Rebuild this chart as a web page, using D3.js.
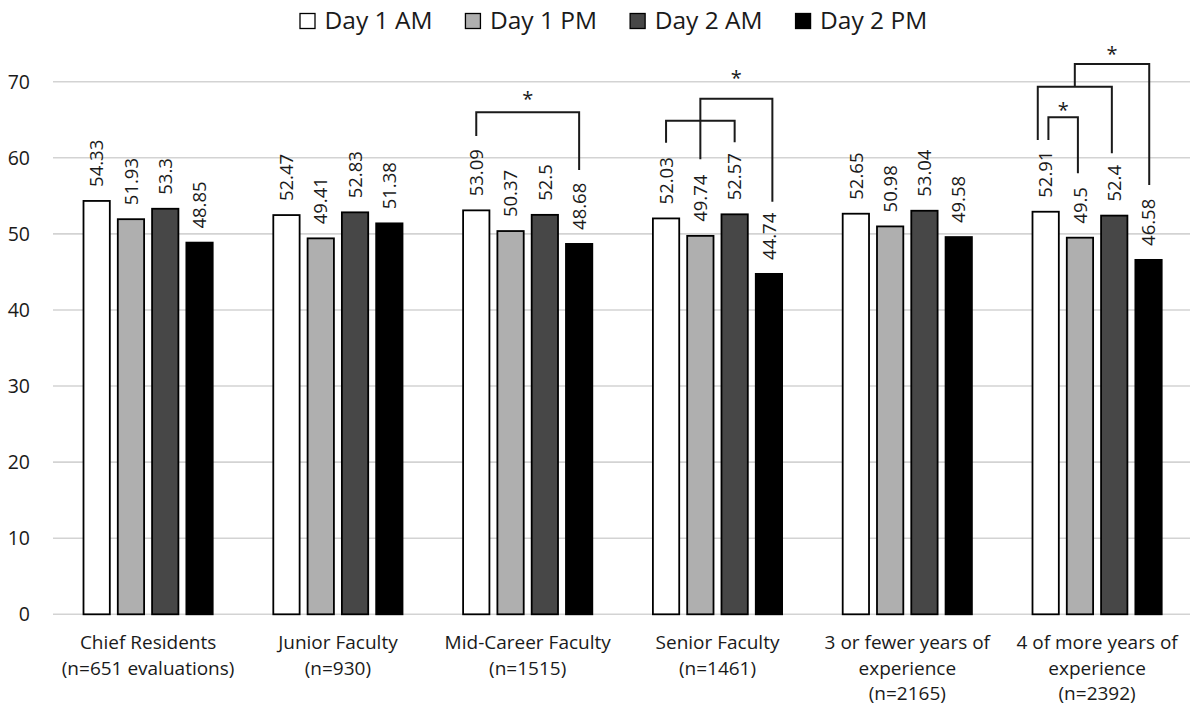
<!DOCTYPE html>
<html>
<head>
<meta charset="utf-8">
<title>Evaluation scores by session</title>
<style>
  body { margin: 0; background: #fff; }
  svg text { font-family: 'Open Sans', 'Noto Sans', sans-serif; fill: #1a1a1a; }
</style>
</head>
<body>
<svg width="1190" height="706"></svg>
<script src="https://d3js.org/d3.v7.min.js"></script>
<script>

// ---- data ----
const categories = ['Chief Residents', 'Junior Faculty', 'Mid-Career Faculty',
  'Senior Faculty', '3 or fewer', '4 of more'];
const categoryLabels = [
  ['Chief Residents', '(n=651 evaluations)'],
  ['Junior Faculty', '(n=930)'],
  ['Mid-Career Faculty', '(n=1515)'],
  ['Senior Faculty', '(n=1461)'],
  ['3 or fewer years of', 'experience', '(n=2165)'],
  ['4 of more years of', 'experience', '(n=2392)']
];
const series = ['Day 1 AM', 'Day 1 PM', 'Day 2 AM', 'Day 2 PM'];
const day1AM = [54.33, 52.47, 53.09, 52.03, 52.65, 52.91];
const day1PM = [51.93, 49.41, 50.37, 49.74, 50.98, 49.5];
const day2AM = [53.3, 52.83, 52.5, 52.57, 53.04, 52.4];
const day2PM = [48.85, 51.38, 48.68, 44.74, 49.58, 46.58];
const yTicks = [0, 10, 20, 30, 40, 50, 60, 70];

// significance brackets: slot = position among the four bars of a group,
// heights in chart units
const brackets = [
  { cat: 2, from: 0, to: 3, top: 65.97, fromEnd: 62.86, toEnd: 58.39, star: 68.25 },
  { cat: 3, from: 0, to: 2, top: 64.87, fromEnd: 61.98, toEnd: 62.03, star: null },
  { cat: 3, from: 1, to: 3.1, top: 67.76, fromEnd: 59.8, toEnd: 54.22, star: 71.0 },
  { cat: 5, from: 0.08, to: 0.94, top: 65.32, fromEnd: 62.33, toEnd: 57.96, star: 66.8 },
  { cat: 5, from: -0.23, to: 1.93, top: 69.34, fromEnd: 62.33, toEnd: 60.59, star: null },
  { cat: 5, from: 0.85, to: 3.02, top: 72.32, fromEnd: 69.34, toEnd: 56.42, star: 74.16 }
];

const values = [day1AM, day1PM, day2AM, day2PM];
const colors = ['#ffffff', '#afafaf', '#474747', '#000000'];

const svg = d3.select('svg');

const x0 = d3.scaleBand()
  .domain(categories)
  .range([53.2, 1192])
  .padding(0);

const x1 = d3.scaleBand()
  .domain(series)
  .range([29.4, 160.4])
  .paddingInner(0.18);

const y = d3.scaleLinear()
  .domain([0, 70])
  .range([614.3, 81.7]);

const color = d3.scaleOrdinal().domain(series).range(colors);

// gridlines
svg.append('g')
  .selectAll('line')
  .data(yTicks)
  .join('line')
  .attr('x1', 53)
  .attr('x2', 1190)
  .attr('y1', d => y(d))
  .attr('y2', d => y(d))
  .attr('stroke', '#d3d3d3')
  .attr('stroke-width', 1.6);

// y tick labels
svg.append('g')
  .selectAll('text')
  .data(yTicks)
  .join('text')
  .attr('x', 30)
  .attr('y', d => y(d))
  .attr('dy', '0.36em')
  .attr('text-anchor', 'end')
  .style('font-size', '19.5px')
  .text(d => d);

// bars
const rows = [];
categories.forEach((c, ci) => {
  series.forEach((s, si) => {
    rows.push({ cat: c, ci: ci, s: s, v: values[si][ci] });
  });
});

const bars = svg.append('g');
bars.selectAll('rect')
  .data(rows)
  .join('rect')
  .attr('x', d => x0(d.cat) + x1(d.s) + 0.9)
  .attr('width', x1.bandwidth() - 1.8)
  .attr('y', d => y(d.v))
  .attr('height', d => y(0) - y(d.v))
  .attr('fill', d => color(d.s))
  .attr('stroke', '#000')
  .attr('stroke-width', 1.8);

// value labels, rotated
bars.selectAll('text')
  .data(rows)
  .join('text')
  .attr('transform', d => {
    const cx = x0(d.cat) + x1(d.s) + x1.bandwidth() / 2;
    return `translate(${cx},${y(d.v) - 14}) rotate(-90)`;
  })
  .attr('dy', '0.36em')
  .style('font-size', '18.5px')
  .text(d => d.v);

// category labels
const catG = svg.append('g')
  .selectAll('text')
  .data(categories)
  .join('text')
  .attr('text-anchor', 'middle')
  .style('font-size', '19px')
  .attr('transform', d => `translate(${x0(d) + x0.bandwidth() / 2},649)`);

catG.selectAll('tspan')
  .data((d, i) => categoryLabels[i])
  .join('tspan')
  .attr('x', 0)
  .attr('y', (d, i) => i * 25.5)
  .text(d => d);

// brackets
function slotX(cat, slot) {
  const first = x0(categories[cat]) + x1(series[0]) + x1.bandwidth() / 2;
  return first + slot * x1.step();
}

const brG = svg.append('g');
brG.selectAll('path')
  .data(brackets)
  .join('path')
  .attr('fill', 'none')
  .attr('stroke', '#1a1a1a')
  .attr('stroke-width', 2)
  .attr('d', b => {
    const xa = slotX(b.cat, b.from), xb = slotX(b.cat, b.to);
    return `M${xa},${y(b.fromEnd)}V${y(b.top)}H${xb}V${y(b.toEnd)}`;
  });

brG.selectAll('text')
  .data(brackets.filter(b => b.star !== null))
  .join('text')
  .attr('x', b => (slotX(b.cat, b.from) + slotX(b.cat, b.to)) / 2)
  .attr('y', b => y(b.star))
  .attr('dy', '0.55em')
  .attr('text-anchor', 'middle')
  .style('font-size', '20px')
  .text('*');

// legend
const legend = svg.append('g');
const items = legend.selectAll('g')
  .data(series)
  .join('g');

items.append('rect')
  .attr('width', 15)
  .attr('height', 15)
  .attr('y', 13.5)
  .attr('fill', d => color(d))
  .attr('stroke', '#000')
  .attr('stroke-width', 1.3);

items.append('text')
  .attr('x', 24.5)
  .attr('y', 28.5)
  .style('font-size', '24.5px')
  .text(d => d);

let lx = 0;
const starts = [];
items.each(function () {
  starts.push(lx);
  const w = d3.select(this).select('text').node().getComputedTextLength();
  lx += 24.5 + w + 33;
});
items.attr('transform', (d, i) => `translate(${300 + starts[i]},0)`);

</script>
</body>
</html>
